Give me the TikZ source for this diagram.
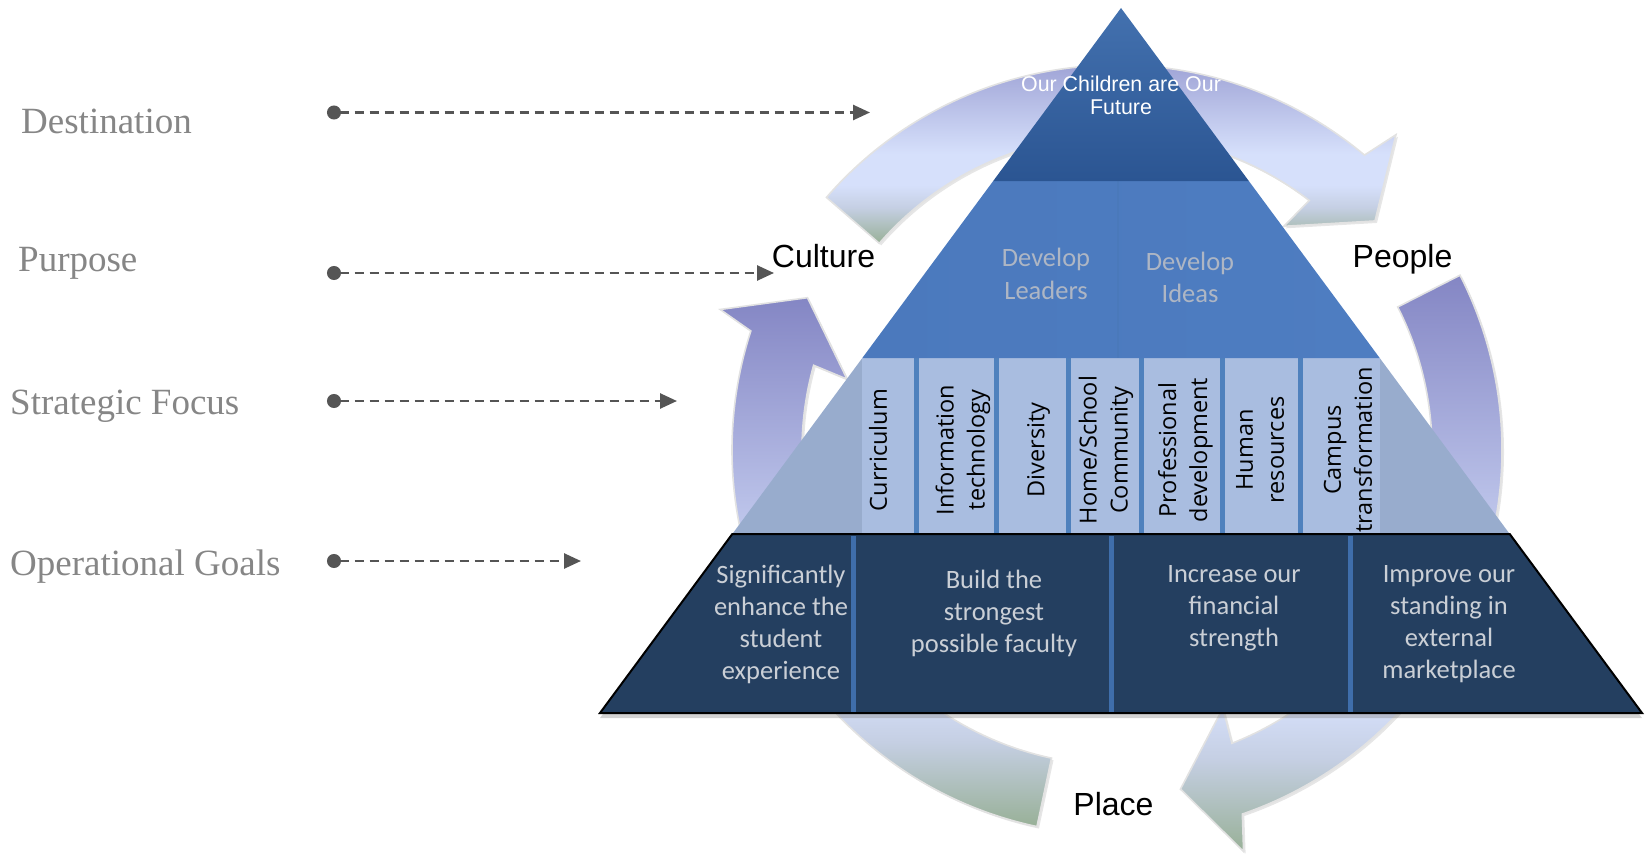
\documentclass[tikz,border=0pt]{standalone}
\usepackage{fontspec}
\setmainfont{Liberation Serif}
\newfontfamily\arialf{Liberation Sans}
\newfontfamily\calibf{Carlito}
\newfontfamily\opensf{Open Sans}
\usetikzlibrary{arrows.meta,calc,shadows}
\definecolor{lblgray}{HTML}{868686}
\definecolor{dashgray}{HTML}{555555}
\definecolor{cycpurple}{HTML}{8486C4}
\definecolor{cyclight}{HTML}{D6E0FB}
\definecolor{cycmid}{HTML}{C5CFE3}
\definecolor{cycgreen}{HTML}{98B097}
\definecolor{cycedge}{HTML}{E2E2E2}
\definecolor{navy}{HTML}{243F60}
\definecolor{opdivc}{HTML}{3F6EAB}
\definecolor{optext}{HTML}{CACFD6}
\definecolor{stratbg}{HTML}{98ACCD}
\definecolor{colfill}{HTML}{A9BDE0}
\definecolor{coldivc}{HTML}{4F81BD}
\definecolor{devtext}{HTML}{AEB6C4}
\definecolor{devleft}{HTML}{4B79BD}
\definecolor{devmid}{HTML}{6D99DC}
\definecolor{devright}{HTML}{4E7DC1}
\definecolor{devseam}{HTML}{4A79BA}
\definecolor{toptop}{HTML}{4371AF}
\definecolor{topbot}{HTML}{2B5592}
\pgfdeclareverticalshading{cycshade}{100bp}{color(0bp)=(cycgreen); color(25bp)=(cycgreen); color(33bp)=(cycmid); color(38bp)=(cyclight); color(45bp)=(cyclight); color(75bp)=(cycpurple); color(100bp)=(cycpurple)}

\begin{document}
\begin{tikzpicture}[x=1pt,y=-1pt,>={Triangle[length=17pt,width=15pt]},
  lbl/.style={anchor=base west,inner sep=0pt,text=lblgray,font=\fontsize{37}{44}\selectfont},
  dasharr/.style={{Circle[length=14pt]}->,draw=dashgray,line width=2.6pt,dash pattern=on 9pt off 6pt},
  cyc/.style={shade,shading=cycshade,draw=cycedge,line width=1.6pt,drop shadow={opacity=.2,shadow xshift=2pt,shadow yshift=-2pt}},
  cyclbl/.style={anchor=base,inner sep=0pt,font=\arialf\fontsize{32}{38}\selectfont},
  toptxt/.style={align=center,inner sep=0pt,text=white,font=\arialf\fontsize{21.4}{23}\selectfont},
  devtxt/.style={align=center,inner sep=0pt,text=devtext,font=\calibf\fontsize{26.5}{32.5}\selectfont},
  coltxt/.style={rotate=90,align=center,inner sep=0pt,font=\opensf\fontsize{23.5}{31}\selectfont},
  optxt/.style={align=center,inner sep=0pt,text=optext,font=\calibf\fontsize{26.5}{32}\selectfont}]
\useasboundingbox (0,0) rectangle (1648,856);

\coordinate (ctr) at (1117,450);
\path[cyc] ($(ctr)+(139:385pt)$) arc[start angle=139,end angle=50,radius=385pt]
  -- ($(ctr)+(48.5:421pt)$) -- ($(ctr)+(41.6:345pt)$) -- ($(ctr)+(53.3:279pt)$)
  -- ($(ctr)+(52.4:315pt)$) arc[start angle=52.4,end angle=139,radius=315pt] -- cycle;
\path[cyc] ($(ctr)+(27:385pt)$) arc[start angle=27,end angle=-71,radius=385pt]
  -- ($(ctr)+(-72.5:421pt)$) -- ($(ctr)+(-79.4:345pt)$) -- ($(ctr)+(-67.7:279pt)$)
  -- ($(ctr)+(-68.6:315pt)$) arc[start angle=-68.6,end angle=27,radius=315pt] -- cycle;
\path[cyc] ($(ctr)+(258:385pt)$) arc[start angle=258,end angle=162,radius=385pt]
  -- ($(ctr)+(160.5:421pt)$) -- ($(ctr)+(153.8:345pt)$) -- ($(ctr)+(165.3:279pt)$)
  -- ($(ctr)+(164.4:315pt)$) arc[start angle=164.4,end angle=258,radius=315pt] -- cycle;

\coordinate (apex) at (1121,8);
\coordinate (t1l) at (993.2,181);  \coordinate (t1r) at (1248.8,181);
\coordinate (t2l) at (862.3,358);  \coordinate (t2r) at (1379.7,358);
\coordinate (t3l) at (732.3,534);  \coordinate (t3r) at (1509.7,534);
\coordinate (t4l) at (600,713);    \coordinate (t4r) at (1642,713);

\fill[stratbg] (t2l) -- (t2r) -- (t3r) -- (t3l) -- cycle;
\fill[colfill] (862.3,358) rectangle (1379.7,534);
\foreach \x in {916,996,1068,1141,1222,1300}
  \draw[coldivc,line width=5pt] (\x,358) -- (\x,534);
\shade[left color=devleft,middle color=devmid,right color=devright]
  (t1l) -- (t1r) -- (t2r) -- (t2l) -- cycle;
\draw[devseam,line width=2pt] (1118,181) -- (1118,358);
\shade[top color=toptop,bottom color=topbot] (apex) -- (t1r) -- (t1l) -- cycle;
\draw[fill=navy,draw=black,line width=2pt,drop shadow={opacity=.35,shadow xshift=0pt,shadow yshift=-5pt}]
  (t3l) -- (t3r) -- (t4r) -- (t4l) -- cycle;
\foreach \x in {853,1111,1350}
  \draw[opdivc,line width=5pt] (\x,536) -- (\x,712);

\node[toptxt] (future) at (1121,95.5) {Our Children are Our\\Future};
\node[devtxt] (leaders) at (1046,273.7) {Develop\\Leaders};
\node[devtxt] (ideas) at (1190,277.5) {Develop\\Ideas};

\node[coltxt] (curr) at (878,450) {Curriculum};
\node[coltxt] (infotech) at (963,450) {Information\\technology};
\node[coltxt] (divers) at (1038.6,450) {Diversity};
\node[coltxt] (homesch) at (1106,450) {Home/School\\Community};
\node[coltxt] (profdev) at (1185.5,450) {Professional\\development};
\node[coltxt] (humres) at (1260,450) {Human\\resources};
\node[coltxt] (campus) at (1348,450) {Campus\\transformation};

\node[optxt] (goal1) at (781,624) {Significantly\\enhance the\\student\\experience};
\node[optxt] (goal2) at (994,613) {Build the\\strongest\\possible faculty};
\node[optxt] (goal3) at (1234,608.5) {Increase our\\financial\\strength};
\node[optxt] (goal4) at (1449,624) {Improve our\\standing in\\external\\marketplace};

\node[cyclbl] (culture) at (823.5,267) {Culture};
\node[cyclbl] (people) at (1402.5,267) {People};
\node[cyclbl] (place) at (1113.5,815) {Place};

\node[lbl] (dest) at (21,133) {Destination};
\node[lbl] (purp) at (18,271) {Purpose};
\node[lbl] (strat) at (10,414) {Strategic Focus};
\node[lbl] (oper) at (10,575) {Operational Goals};

\coordinate (destS) at (327,112.5);  \coordinate (destE) at (870,112.5);
\coordinate (purpS) at (327,273);    \coordinate (purpE) at (774,273);
\coordinate (stratS) at (327,401);   \coordinate (stratE) at (677,401);
\coordinate (operS) at (327,561);    \coordinate (operE) at (581,561);
\draw[dasharr] (destS) -- (destE);
\draw[dasharr] (purpS) -- (purpE);
\draw[dasharr] (stratS) -- (stratE);
\draw[dasharr] (operS) -- (operE);
\end{tikzpicture}
\end{document}
